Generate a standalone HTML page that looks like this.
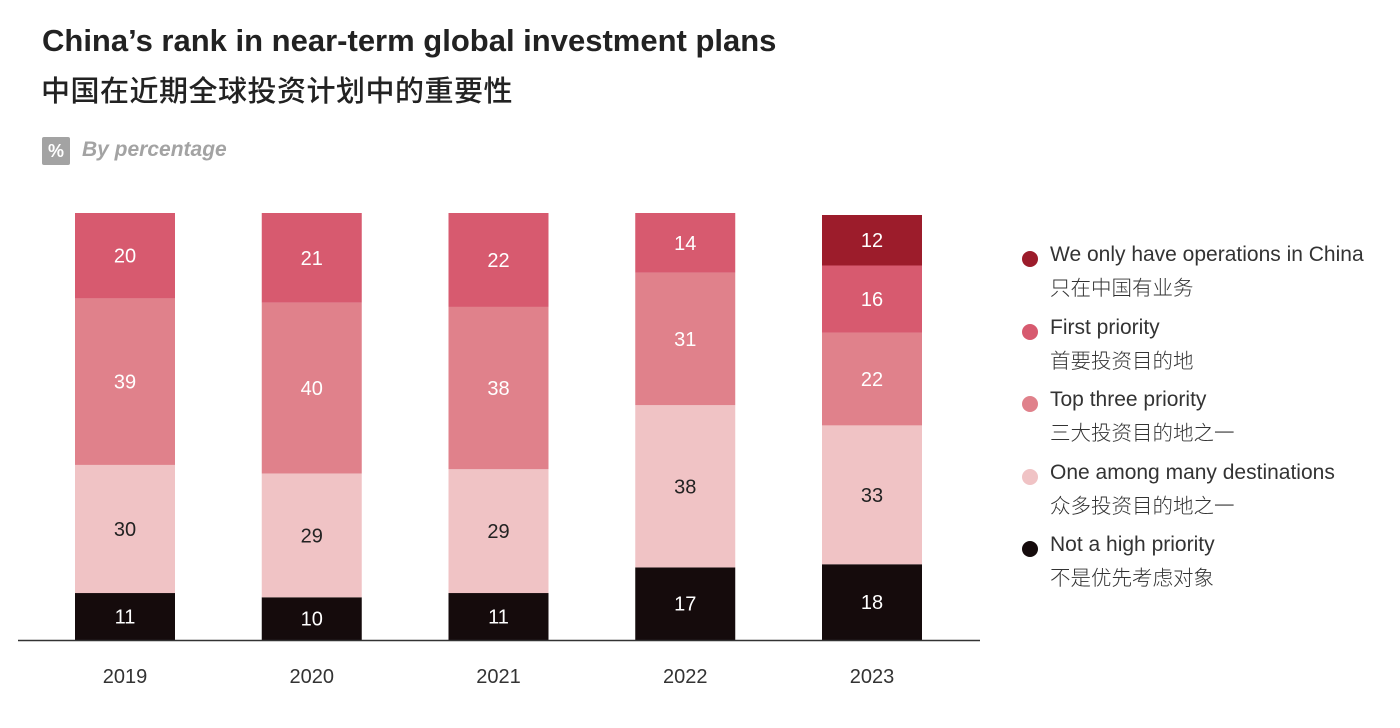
<!DOCTYPE html>
<html><head><meta charset="utf-8"><style>
body{margin:0;width:1400px;height:728px;background:#fff;font-family:"Liberation Sans","Noto Sans CJK SC",sans-serif;overflow:hidden;position:relative;color:#222}
.t1{position:absolute;left:42px;top:23px;font-size:31px;font-weight:bold;color:#222}
.t2{position:absolute;left:41px;top:68px;font-size:29px;font-weight:500;color:#222;font-family:"Noto Sans CJK SC",sans-serif;letter-spacing:0.5px}
.badge{position:absolute;left:42px;top:137px;width:28px;height:28px;background:#a3a3a3;color:#fff;font-size:18px;font-weight:bold;text-align:center;line-height:28px;border-radius:2px}
.unit{position:absolute;left:82px;top:138px;font-size:21px;font-style:italic;font-weight:bold;color:#a3a3a3}
.leg{position:absolute;left:1022px;font-size:21px;color:#333}
.leg .dot{position:absolute;left:0;top:8px;width:16px;height:16px;border-radius:50%}
.leg .en{position:absolute;left:28px;top:0;white-space:nowrap}
.leg .cn{position:absolute;left:28px;top:28px;white-space:nowrap;font-family:"Noto Sans CJK SC",sans-serif;font-size:20.5px;font-weight:300}
</style></head><body>
<div class="t1">China’s rank in near-term global investment plans</div>
<div class="t2">中国在近期全球投资计划中的重要性</div>
<div class="badge">%</div>
<div class="unit">By percentage</div>
<svg id="chart" width="1000" height="728" style="position:absolute;left:0;top:0"></svg>
<div id="legend"></div>
<script>
const years=["2019","2020","2021","2022","2023"];
const notHigh=[11,10,11,17,18];
const oneAmong=[30,29,29,38,33];
const topThree=[39,40,38,31,22];
const firstPri=[20,21,22,14,16];
const onlyChina=[0,0,0,0,12];
const seriesNames=["Not a high priority","One among many destinations","Top three priority","First priority","We only have operations in China"];
const seriesCn=["不是优先考虑对象","众多投资目的地之一","三大投资目的地之一","首要投资目的地","只在中国有业务"];
const colors=["#150b0c","#f0c3c5","#e0818b","#d75a6f","#9c1c2b"];
const textCol=["#fff","#222","#fff","#fff","#fff"];
const series=[notHigh,oneAmong,topThree,firstPri,onlyChina];
const ns="http://www.w3.org/2000/svg";
const svg=document.getElementById('chart');
const base=640,fullH=427,x0=75,step=186.75,bw=100;
function xPos(i){return x0+i*step;}
function el(t,a){const e=document.createElementNS(ns,t);for(const k in a)e.setAttribute(k,a[k]);svg.appendChild(e);return e;}
years.forEach((y,i)=>{
  let tot=0;series.forEach(s=>tot+=s[i]);
  const H=tot>100?425:fullH;
  let yy=base;
  series.forEach((s,j)=>{
    const v=s[i];if(!v)return;
    const h=v/tot*H;
    const r=el('rect',{x:xPos(i),y:yy-h,width:bw,height:h,fill:colors[j]});
    
    
    const t=el('text',{x:xPos(i)+bw/2,y:yy-h/2+7,'text-anchor':'middle','font-size':20,fill:textCol[j],'font-family':'Liberation Sans, sans-serif'});
    t.textContent=v;
    
    
    yy-=h;
  });
  const l=el('text',{x:xPos(i)+bw/2,y:683,'text-anchor':'middle','font-size':20,fill:'#333','font-family':'Liberation Sans, sans-serif'});
  l.textContent=y;
  
  
});
const ax=el('line',{x1:18,x2:980,y1:640.5,y2:640.5,stroke:'#333','stroke-width':1.5});


const lg=document.getElementById('legend');
[4,3,2,1,0].forEach((j,k)=>{
  const d=document.createElement('div');d.className='leg';d.style.top=(243+k*72.5)+'px';
  
  
  d.innerHTML='<div class="dot" style="background:'+colors[j]+'"></div><div class="en">'+seriesNames[j]+'</div><div class="cn">'+seriesCn[j]+'</div>';
  lg.appendChild(d);
});
</script>
</body></html>
